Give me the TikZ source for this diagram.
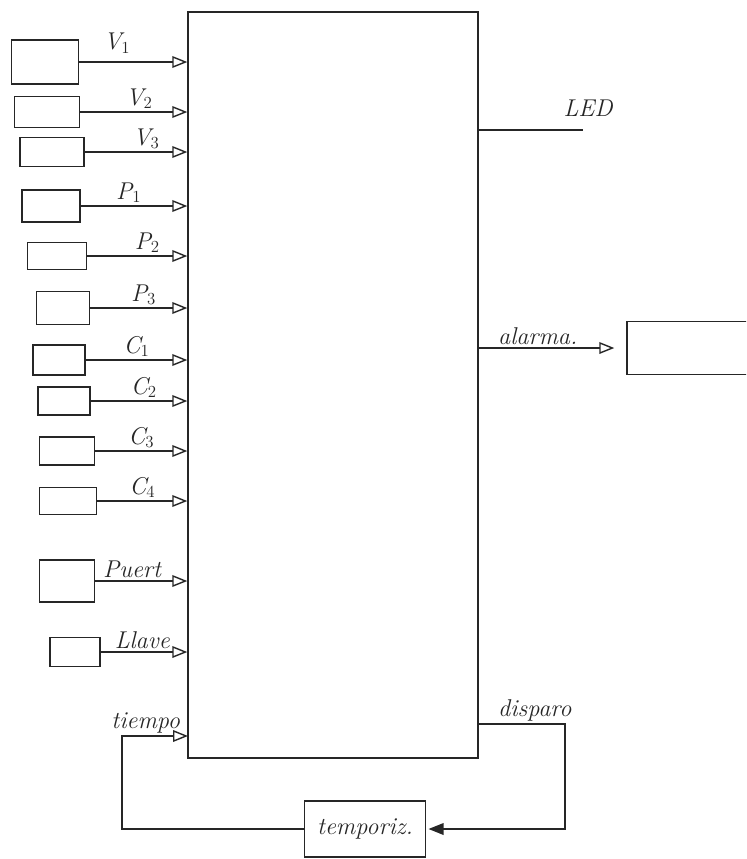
\documentclass[tikz,border=0pt]{standalone}
\usepackage{xcolor}
\usepackage{amsmath}
\usepackage{tikz}
\usetikzlibrary{arrows.meta}

\begin{document}
\begin{tikzpicture}[x=0.03cm,y=-0.03cm,line width=1.2pt,color=black!85,
	inBox/.style={rectangle,draw,inner sep=0pt},
	sigLbl/.style={font=\huge\itshape,inner sep=2pt},
	sigArrow/.style={-{Triangle[open,length=4.5mm,width=3.5mm]}}]
	\useasboundingbox (0,0) rectangle (746,859);
	\clip (0,0) rectangle (746,859);

	\node[rectangle,draw,minimum width=8.7cm,minimum height=22.38cm] (central) at (333,385) {};

	\node[inBox,minimum width=2.01cm,minimum height=1.32cm] (v1) at (45,62) {};
	\node[inBox,minimum width=1.95cm,minimum height=0.93cm] (v2) at (47,112) {};
	\node[inBox,minimum width=1.92cm,minimum height=0.87cm] (v3) at (52,152) {};
	\node[inBox,minimum width=1.74cm,minimum height=0.96cm] (p1) at (51,206) {};
	\node[inBox,minimum width=1.77cm,minimum height=0.81cm] (p2) at (57,256) {};
	\node[inBox,minimum width=1.59cm,minimum height=0.99cm] (p3) at (63,308) {};
	\node[inBox,minimum width=1.56cm,minimum height=0.9cm] (c1) at (59,360) {};
	\node[inBox,minimum width=1.56cm,minimum height=0.84cm] (c2) at (64,401) {};
	\node[inBox,minimum width=1.65cm,minimum height=0.84cm] (c3) at (67,451) {};
	\node[inBox,minimum width=1.71cm,minimum height=0.81cm] (c4) at (68,501) {};
	\node[inBox,minimum width=1.65cm,minimum height=1.26cm] (puerta) at (67,581) {};
	\node[inBox,minimum width=1.5cm,minimum height=0.87cm] (llave) at (75,652) {};

	\node[inBox,minimum width=3.63cm,minimum height=1.68cm,font=\huge\itshape] (temporiz) at (365,829) {temporiz.};
	\node[inBox,minimum width=5.4cm,minimum height=1.59cm] (alarmBox) at (717,348) {};

	\coordinate (tiempoIn) at (188,736);
	\coordinate (loopL) at (122,843);
	\coordinate (dispR) at (565,724);
	\coordinate (ledEnd) at (583,130);

\draw[sigArrow](v1) -- (v1 -| central.west) node[sigLbl,above=5pt,pos=0.35] (lv1) {V$_1$};
\draw[sigArrow](v2) -- (v2 -| central.west) node[sigLbl,above,pos=0.55] (lv2) {V$_2$};
\draw[sigArrow](v3) -- (v3 -| central.west) node[sigLbl,above,pos=0.6] (lv3) {V$_3$};
\draw[sigArrow](p1) -- (p1 -| central.west) node[sigLbl,above,pos=0.45] (lp1) {P$_1$};
\draw[sigArrow](p2) -- (p2 -| central.west) node[sigLbl,above,pos=0.6] (lp2) {P$_2$};
\draw[sigArrow](p3) -- (p3 -| central.west) node[sigLbl,above,pos=0.55] (lp3) {P$_3$};
\draw[sigArrow](c1) -- (c1 -| central.west) node[sigLbl,above,pos=0.5] (lc1) {C$_1$};
\draw[sigArrow](c2) -- (c2 -| central.west) node[sigLbl,above,pos=0.55] (lc2) {C$_2$};
\draw[sigArrow](c3) -- (c3 -| central.west) node[sigLbl,above,pos=0.5] (lc3) {C$_3$};
\draw[sigArrow](c4) -- (c4 -| central.west) node[sigLbl,above,pos=0.5] (lc4) {C$_4$};
\draw[sigArrow](puerta) -- (puerta -| central.west) node[sigLbl,above,pos=0.4] (lpuerta) {Puert};
\draw[sigArrow](llave) -- (llave -| central.west) node[sigLbl,above,pos=0.48] (lllave) {Llave};

\draw[sigArrow](temporiz.west) -- (temporiz.west -| loopL) |- (tiempoIn) node[sigLbl,above,pos=0.68] (ltiempo) {tiempo};
\draw[-{Triangle[length=4.5mm,width=3.5mm]},shorten >=2pt](dispR -| central.east) -- (dispR) node[sigLbl,above,pos=0.65] (ldisparo) {disparo} |- (temporiz.east);

\draw(ledEnd -| central.east) -- (ledEnd);
\node[sigLbl] (lled) at (588,108) {LED};

\draw[sigArrow,shorten >=0.36cm](central.east |- alarmBox.west) -- (alarmBox.west) node[sigLbl,above,pos=0.4] (lalarma) {alarma.};

\end{tikzpicture}
\end{document}
